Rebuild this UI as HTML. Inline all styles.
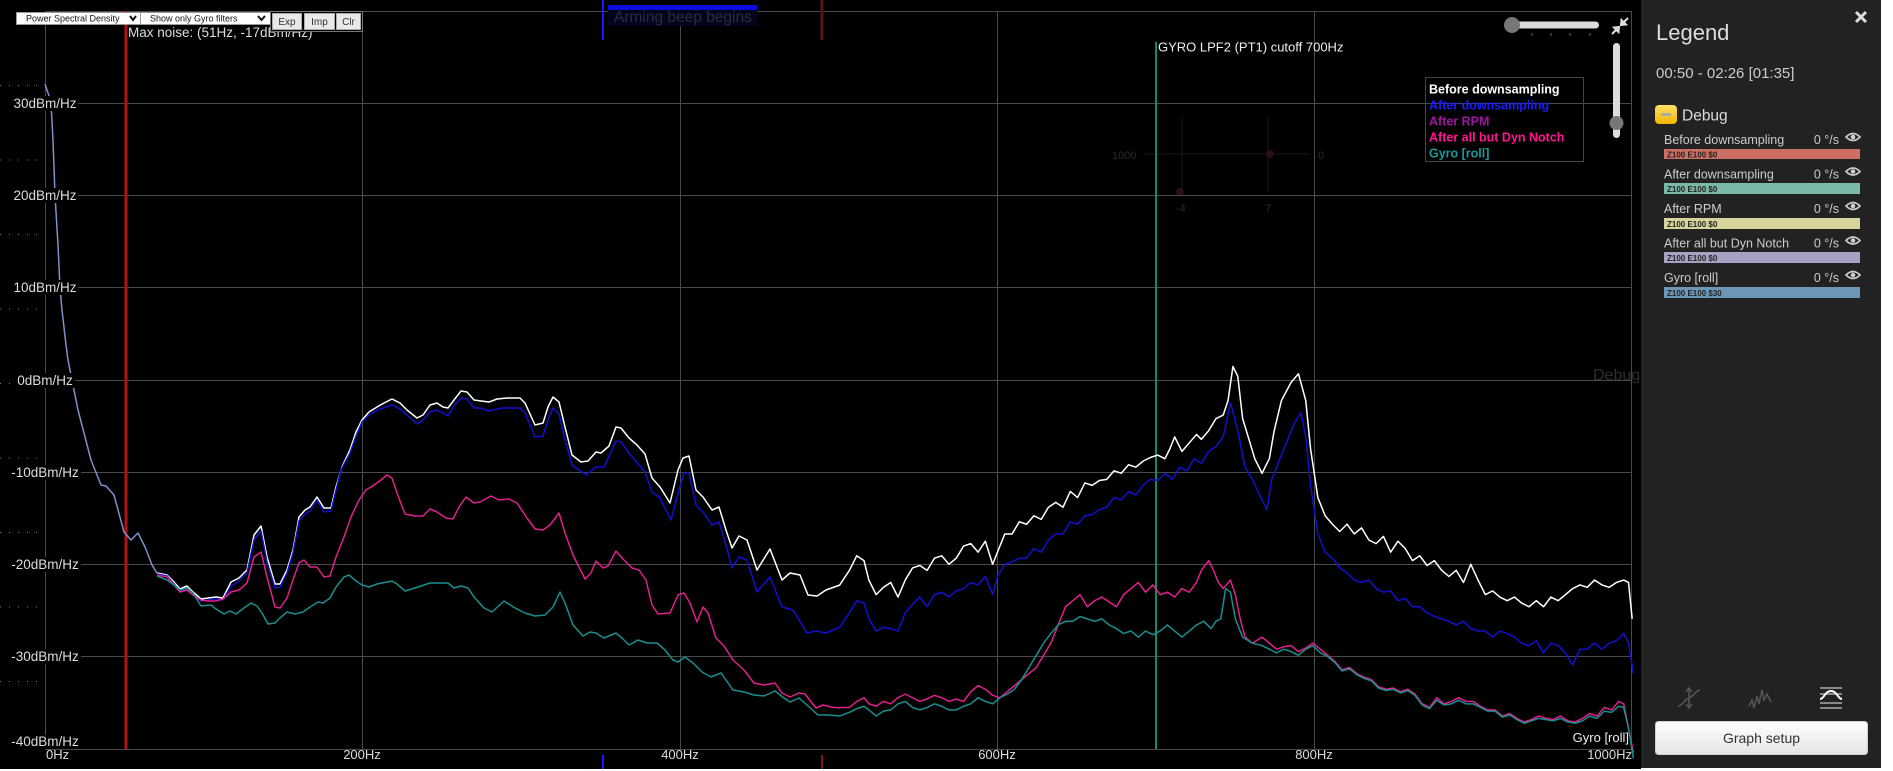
<!DOCTYPE html>
<html>
<head>
<meta charset="utf-8">
<style>
html,body{margin:0;padding:0;background:#fff;}
body{width:1893px;height:771px;overflow:hidden;}
svg{display:block;}
text{font-family:"Liberation Sans",Arial,sans-serif;}
</style>
</head>
<body>
<svg width="1893" height="771" viewBox="0 0 1893 771" xmlns="http://www.w3.org/2000/svg">
<defs>
<linearGradient id="btn" x1="0" y1="0" x2="0" y2="1"><stop offset="0" stop-color="#ffffff"/><stop offset="1" stop-color="#e4e4e4"/></linearGradient>
<linearGradient id="yel" x1="0" y1="0" x2="0" y2="1"><stop offset="0" stop-color="#ffe066"/><stop offset="1" stop-color="#f2b600"/></linearGradient>
</defs>
<rect x="0" y="0" width="1893" height="771" fill="#fff"/>
<rect x="0" y="0" width="1641" height="769" fill="#000"/>

<g fill="#2a2a2a" font-size="11">
<text x="1112" y="159">1000</text>
<text x="1318" y="159">0</text>
<text x="1176" y="212">-4</text>
<text x="1265" y="212">7</text>
</g>
<g stroke="#1a1a1a" stroke-width="1">
<line x1="1182" y1="118" x2="1182" y2="192"/>
<line x1="1268" y1="118" x2="1268" y2="192"/>
<line x1="1145" y1="154" x2="1310" y2="154"/>
</g>
<circle cx="1270" cy="154" r="4" fill="#2a1010"/>
<circle cx="1180" cy="192" r="4" fill="#2a1010"/>
<text x="1593" y="380" font-size="16" fill="#2e2e2e">Debug</text>

<g stroke="#777" stroke-width="1" stroke-dasharray="1 8">
<line x1="0" y1="85.5" x2="45" y2="85.5"/>
<line x1="0" y1="160" x2="45" y2="160"/>
<line x1="0" y1="234.5" x2="45" y2="234.5"/>
<line x1="0" y1="309" x2="45" y2="309"/>
<line x1="0" y1="383.5" x2="45" y2="383.5"/>
<line x1="0" y1="458" x2="45" y2="458"/>
<line x1="0" y1="532.5" x2="45" y2="532.5"/>
<line x1="0" y1="607" x2="45" y2="607"/>
<line x1="0" y1="681.5" x2="45" y2="681.5"/>
</g>

<g stroke="#4a4a4a" stroke-width="1">
<line x1="45" y1="11.5" x2="1632" y2="11.5"/>
<line x1="45" y1="103.5" x2="1632" y2="103.5"/>
<line x1="45" y1="195.5" x2="1632" y2="195.5"/>
<line x1="45" y1="287.5" x2="1632" y2="287.5"/>
<line x1="45" y1="380.5" x2="1632" y2="380.5"/>
<line x1="45" y1="472.5" x2="1632" y2="472.5"/>
<line x1="45" y1="564.5" x2="1632" y2="564.5"/>
<line x1="45" y1="656.5" x2="1632" y2="656.5"/>
<line x1="45" y1="749.5" x2="1632" y2="749.5"/>
<line x1="45.5" y1="11" x2="45.5" y2="749"/>
<line x1="362.5" y1="11" x2="362.5" y2="749"/>
<line x1="680.5" y1="11" x2="680.5" y2="749"/>
<line x1="997.5" y1="11" x2="997.5" y2="749"/>
<line x1="1314.5" y1="11" x2="1314.5" y2="749"/>
<line x1="1631.5" y1="11" x2="1631.5" y2="749"/>
</g>

<line x1="126" y1="11" x2="126" y2="749" stroke="#b01212" stroke-width="3"/>
<line x1="1156" y1="42" x2="1156" y2="749" stroke="#148a6a" stroke-width="2"/>
<line x1="603" y1="0" x2="603" y2="40" stroke="#1a1aff" stroke-width="2"/>
<line x1="603" y1="755" x2="603" y2="769" stroke="#1a1aff" stroke-width="2"/>
<line x1="822" y1="0" x2="822" y2="40" stroke="#5a1414" stroke-width="3"/>
<line x1="822" y1="755" x2="822" y2="769" stroke="#8a1414" stroke-width="2"/>

<rect x="608" y="5" width="149" height="5" fill="#0c0ce0"/>
<rect x="608" y="10" width="149" height="16" fill="#04041c"/>
<text x="614" y="22" font-size="15.5" fill="#2c2c40">Arming beep begins</text>

<g fill="none" stroke-width="1.5" stroke-linejoin="round">
<polyline stroke="#ffffff" points="157,573 167,575 174,582 180,589 187,586 193,592 201,599 208,598 216,597 223,598 231,582 239,578 247,570 254,535 261,526 267,557 275,584 280,584 287,570 293,550 299,517 305,510 310,507 317,497 324,508 331,508 336,487 342,467 350,450 356,432 362,420 369,412 377,407 384,403 392,399 400,403 407,410 417,418 423,415 430,405 437,403 443,407 448,408 454,400 461,391 467,392 474,400 481,401 489,402 497,399 507,398 520,398 525,403 535,425 543,423 548,407 553,397 559,402 565,427 572,455 581,462 588,461 596,452 601,453 609,446 616,427 621,428 629,438 637,445 645,454 652,478 660,487 670,503 678,470 683,458 689,456 696,490 703,497 712,510 719,507 726,530 732,548 739,536 747,540 757,570 770,549 782,580 790,573 800,575 808,595 817,596 826,590 840,585"/>
<polyline stroke="#1010d0" points="157,574 167,576 174,584 180,591 187,588 193,594 201,601 208,600 216,599 223,600 231,586 239,581 247,573 254,540 261,531 267,562 275,588 280,587 287,573 293,553 299,521 305,514 310,511 317,500 324,512 331,511 336,490 341,470 350,453 356,436 362,422 369,415 377,410 392,405 400,409 407,415 417,424 423,420 430,412 437,410 443,413 448,416 454,406 461,398 467,399 474,408 481,408 489,411 502,408 520,408 525,413 535,437 543,436 548,420 553,408 559,414 565,440 572,465 586,475 596,467 604,467 616,441 621,442 629,453 645,472 652,492 660,498 671,520 679,490 684,473 689,473 696,505 703,512 712,525 719,522 726,545 732,568 739,557 747,560 757,592 770,577 782,607 793,610 807,633 816,631 826,633 840,627"/>
<polyline stroke="#e0208c" points="157,575 167,577 174,585 180,592 187,590 193,595 201,600 208,601 216,601 223,599 231,592 239,590 247,583 254,557 261,552 267,577 275,607 280,608 287,598 294,577 299,563 304,560 310,567 317,567 324,577 330,576 336,557 344,537 351,517 359,500 366,490 374,485 381,480 387,475 392,478 397,493 405,514 415,516 423,516 430,509 437,512 446,518 453,519 459,507 466,497 474,503 480,502 491,496 499,500 509,499 517,503 527,518 535,529 543,530 550,525 559,513 565,533 573,555 585,579 591,573 596,561 603,568 608,566 616,551 624,560 632,568 639,570 646,580 652,605 658,614 670,613 678,595 684,593 690,603 697,622 703,607 708,613 716,638 724,646 733,660 744,670 754,683 764,685 775,683 782,693 790,697 799,693 805,694 816,708 823,705 831,707 840,708"/>
<polyline stroke="#1a8e8e" points="157,576 167,580 174,585 180,590 187,588 193,593 201,606 211,605 216,609 224,614 230,611 236,614 244,608 251,603 257,606 262,613 268,624 275,623 280,618 287,612 295,614 303,612 310,607 318,602 323,603 330,598 336,587 344,577 349,575 356,581 362,585 369,587 377,584 392,581 397,584 405,591 418,587 430,583 448,583 454,588 461,586 468,588 474,597 484,608 492,612 504,601 515,608 525,613 535,616 545,615 553,607 560,592 565,603 573,625 583,636 590,632 596,633 604,638 616,633 622,638 629,645 638,640 647,643 657,643 665,650 673,660 678,662 685,657 693,663 702,672 711,677 721,673 733,690 744,692 754,695 764,696 775,691 784,698 790,702 799,698 808,706 818,715 828,715 840,716"/>
<polyline stroke="#8090c8" points="45,84 49,96 51,103 53,140 55,195 58,245 60,288 62,310 66,345 68,360 78,410 91,460 101,485 106,486 114,495 124,532 131,540 138,533 145,547 152,565 157,573"/>
</g>

<g fill="none" stroke-width="1.24" stroke-linejoin="round" transform="scale(1.2135)">
<polyline stroke="#ffffff" points="692,482 700,470 706,458 712,462 716,478 722,490 728,484 734,480 740,492 746,478 752,468 758,466 764,470 770,460 776,458 782,465 788,460 794,450 800,448 806,455 812,446 818,465 822,455 828,440 834,440 840,430 846,432 852,425 858,428 864,418 870,414 876,418 882,405 888,410 894,398 900,400 906,396 912,395 918,388 924,390 930,383 936,385 942,380 948,377 954,375 960,378 964,370 968,360 974,372 980,365 986,358 990,362 996,355 1002,345 1008,342 1012,330 1016,302 1020,310 1024,345 1028,358 1034,378 1040,390 1046,378 1050,355 1056,330 1064,315 1070,308 1076,330 1080,370 1086,410 1092,425 1098,432 1104,438 1110,432 1116,440 1122,435 1128,445 1134,448 1140,442 1146,455 1152,446 1158,452 1164,462 1170,458 1176,466 1182,462 1188,470 1194,475 1200,470 1206,480 1212,465 1218,478 1224,490 1230,487 1236,492 1242,495 1248,492 1254,497 1260,500 1266,495 1272,500 1278,492 1284,495 1290,490 1296,485 1302,482 1308,484 1314,478 1320,482 1326,484 1332,480 1338,478 1342,480 1345,510"/>
<polyline stroke="#1010d0" points="692,517 700,505 706,495 712,497 716,510 722,520 728,517 734,518 740,520 746,505 752,498 758,492 764,500 770,490 776,488 782,492 788,487 794,485 800,480 806,482 812,475 818,490 822,475 828,465 834,463 840,460 846,460 852,452 858,455 864,445 870,440 876,440 882,430 888,432 894,425 900,424 906,420 912,418 918,410 924,412 930,405 936,408 942,400 948,395 954,396 960,390 966,395 972,385 978,388 984,378 990,382 996,372 1002,368 1008,360 1014,332 1020,355 1026,385 1032,395 1038,408 1044,420 1048,395 1054,380 1060,365 1066,350 1072,340 1076,360 1080,400 1086,440 1092,455 1098,460 1104,468 1110,472 1116,478 1122,480 1128,478 1134,485 1140,488 1146,487 1152,495 1158,493 1164,500 1170,500 1176,505 1182,508 1188,510 1194,512 1200,515 1206,512 1212,518 1218,520 1224,520 1230,525 1236,520 1242,522 1248,525 1254,530 1260,532 1266,528 1272,538 1278,530 1284,532 1290,538 1296,548 1302,535 1308,535 1314,530 1320,535 1326,530 1332,528 1338,522 1342,530 1346,555"/>
<polyline stroke="#e0208c" points="692,583 700,583 706,578 712,575 716,580 722,582 728,578 734,580 740,575 746,572 752,575 758,578 764,576 770,573 776,575 782,578 788,576 794,578 800,570 806,565 812,568 818,573 824,575 830,570 836,565 842,560 848,555 854,550 860,540 866,530 872,515 878,500 884,495 890,490 896,500 902,495 908,492 914,496 920,500 926,490 932,485 938,480 944,488 950,482 956,490 962,488 968,492 974,485 980,488 986,480 990,470 996,462 1000,470 1004,480 1008,485 1014,478 1018,490 1022,510 1026,525 1032,530 1040,525 1046,530 1052,535 1058,533 1064,532 1070,537 1076,534 1082,530 1088,535 1094,540 1100,545 1106,552 1112,550 1118,555 1124,558 1130,560 1136,566 1142,568 1148,567 1154,570 1160,568 1166,572 1172,580 1178,583 1184,575 1190,580 1196,578 1202,575 1208,578 1214,578 1220,582 1226,585 1232,585 1238,590 1244,588 1250,592 1256,595 1262,593 1268,590 1274,592 1280,593 1286,590 1292,594 1298,595 1304,592 1310,588 1316,590 1322,583 1328,585 1334,578 1338,580 1342,600 1346,620"/>
<polyline stroke="#1a8e8e" points="692,590 700,587 706,584 712,582 716,585 722,590 728,586 734,585 740,580 746,578 752,583 758,585 764,583 770,580 776,582 782,585 788,585 794,582 800,580 806,575 812,578 818,580 824,575 830,572 836,568 842,560 848,550 854,540 860,530 866,522 872,515 878,512 884,512 890,508 896,510 902,512 908,510 914,515 920,518 926,522 932,520 938,525 944,520 950,523 956,520 962,515 968,520 974,525 980,520 986,515 992,512 998,518 1002,512 1006,510 1010,485 1014,488 1018,510 1024,525 1032,530 1040,532 1046,535 1052,538 1058,535 1064,537 1070,540 1076,535 1082,532 1088,538 1094,541 1100,546 1106,553 1112,551 1118,556 1124,559 1130,561 1136,567 1142,569 1148,568 1154,571 1160,569 1166,573 1172,581 1178,584 1184,577 1190,581 1196,580 1202,577 1208,580 1214,580 1220,583 1226,586 1232,586 1238,591 1244,589 1250,593 1256,596 1262,594 1268,592 1274,593 1280,594 1286,592 1292,595 1298,596 1304,594 1310,590 1316,592 1322,586 1328,587 1334,582 1338,583 1342,600 1346,625"/>
</g>

<g font-size="13.5" fill="#ddd" text-anchor="middle">
<rect x="12" y="96" width="66" height="15" fill="#000"/><text x="45" y="108">30dBm/Hz</text>
<rect x="12" y="188" width="66" height="15" fill="#000"/><text x="45" y="200">20dBm/Hz</text>
<rect x="12" y="280" width="66" height="15" fill="#000"/><text x="45" y="292">10dBm/Hz</text>
<rect x="15" y="373" width="60" height="15" fill="#000"/><text x="45" y="385">0dBm/Hz</text>
<rect x="9" y="465" width="72" height="15" fill="#000"/><text x="45" y="477">-10dBm/Hz</text>
<rect x="9" y="557" width="72" height="15" fill="#000"/><text x="45" y="569">-20dBm/Hz</text>
<rect x="9" y="649" width="72" height="15" fill="#000"/><text x="45" y="661">-30dBm/Hz</text>
<rect x="9" y="735" width="72" height="14" fill="#000"/><text x="45" y="746">-40dBm/Hz</text>
</g>
<g font-size="13" fill="#ddd">
<text x="46" y="759">0Hz</text>
<text x="362" y="759" text-anchor="middle">200Hz</text>
<text x="680" y="759" text-anchor="middle">400Hz</text>
<text x="997" y="759" text-anchor="middle">600Hz</text>
<text x="1314" y="759" text-anchor="middle">800Hz</text>
<text x="1632" y="759" text-anchor="end">1000Hz</text>
<text x="1629" y="742" text-anchor="end" fill="#eee">Gyro [roll]</text>
</g>

<text x="1158" y="51.5" font-size="13" fill="#eee">GYRO LPF2 (PT1) cutoff 700Hz</text>
<text x="128" y="37" font-size="13.5" fill="#ddd">Max noise: (51Hz, -17dBm/Hz)</text>

<rect x="16.5" y="12.5" width="124" height="12" fill="#fff" stroke="#999"/>
<text x="26" y="21.5" font-size="9" fill="#111">Power Spectral Density</text>
<path d="M130 16 L133 20 L136 16" stroke="#111" stroke-width="2" fill="none"/>
<rect x="140.5" y="12.5" width="130" height="12" fill="#fff" stroke="#999"/>
<text x="150" y="21.5" font-size="9" fill="#111">Show only Gyro filters</text>
<path d="M258 16 L261.5 20 L265 16" stroke="#111" stroke-width="2" fill="none"/>
<rect x="270.5" y="11.5" width="92" height="20" fill="#000" stroke="#777"/>
<rect x="272.5" y="13.5" width="29" height="16" fill="#e9e9e9" stroke="#aaa"/>
<text x="287" y="25" font-size="10" fill="#333" text-anchor="middle">Exp</text>
<rect x="304.5" y="13.5" width="30" height="16" fill="#e9e9e9" stroke="#aaa"/>
<text x="319.5" y="25" font-size="10" fill="#333" text-anchor="middle">Imp</text>
<rect x="336.5" y="13.5" width="24" height="16" fill="#e9e9e9" stroke="#aaa"/>
<text x="348.5" y="25" font-size="10" fill="#333" text-anchor="middle">Clr</text>

<rect x="1425.5" y="77.5" width="158" height="84" fill="none" stroke="#444"/>
<g font-size="12.5" font-weight="bold">
<text x="1429" y="93.5" fill="#ffffff">Before downsampling</text>
<text x="1429" y="109.5" fill="#1a1aff">After downsampling</text>
<text x="1429" y="125.5" fill="#a015a0">After RPM</text>
<text x="1429" y="141.5" fill="#ff1493">After all but Dyn Notch</text>
<text x="1429" y="157.5" fill="#1a9a9a">Gyro [roll]</text>
</g>

<rect x="1510" y="21.5" width="89" height="7" rx="3.5" fill="#ddd"/>
<circle cx="1512" cy="25" r="8" fill="#777"/>
<g stroke="#666" stroke-width="1"><line x1="1532" y1="33" x2="1532" y2="36"/><line x1="1551" y1="33" x2="1551" y2="36"/><line x1="1570" y1="33" x2="1570" y2="36"/><line x1="1590" y1="33" x2="1590" y2="36"/></g>
<rect x="1613" y="43" width="7" height="95" rx="3.5" fill="#ddd"/>
<circle cx="1616.5" cy="123" r="7" fill="#777"/>
<g stroke="#ddd" stroke-width="2" fill="#ddd">
<line x1="1612" y1="34" x2="1617" y2="29"/><path d="M1619 27 L1614 27.5 L1618.5 32 Z"/>
<line x1="1628" y1="18" x2="1623" y2="23"/><path d="M1621 25 L1626 24.5 L1621.5 20 Z"/>
</g>

<rect x="1641" y="0" width="240" height="768" fill="#222"/>
<g stroke="#ddd" stroke-width="3"><line x1="1856" y1="12" x2="1866" y2="22"/><line x1="1866" y1="12" x2="1856" y2="22"/></g>
<text x="1656" y="40" font-size="22" fill="#ddd">Legend</text>
<text x="1656" y="78" font-size="15" fill="#ccc">00:50 - 02:26 [01:35]</text>
<rect x="1655" y="105" width="22" height="19" rx="4" fill="url(#yel)"/>
<rect x="1661" y="113" width="10" height="3" fill="#aaa"/>
<text x="1682" y="120.5" font-size="15.5" fill="#ddd">Debug</text>

<g font-size="12.5" fill="#ccc">
<text x="1664" y="144">Before downsampling</text><text x="1839" y="144" text-anchor="end">0 °/s</text>
<text x="1664" y="178.5">After downsampling</text><text x="1839" y="178.5" text-anchor="end">0 °/s</text>
<text x="1664" y="213">After RPM</text><text x="1839" y="213" text-anchor="end">0 °/s</text>
<text x="1664" y="247.5">After all but Dyn Notch</text><text x="1839" y="247.5" text-anchor="end">0 °/s</text>
<text x="1664" y="282">Gyro [roll]</text><text x="1839" y="282" text-anchor="end">0 °/s</text>
</g>
<rect x="1664" y="149" width="196" height="10" fill="#cd6e64"/>
<rect x="1664" y="183" width="196" height="11" fill="#7ab8a8"/>
<rect x="1664" y="218" width="196" height="11" fill="#d7d49b"/>
<rect x="1664" y="252" width="196" height="11" fill="#a7a2c4"/>
<rect x="1664" y="287" width="196" height="11" fill="#6d97b7"/>
<g font-size="8" font-weight="bold" fill="#222">
<text x="1667" y="157.5">Z100 E100 $0</text>
<text x="1667" y="192">Z100 E100 $0</text>
<text x="1667" y="227">Z100 E100 $0</text>
<text x="1667" y="261">Z100 E100 $0</text>
<text x="1667" y="296">Z100 E100 $30</text>
</g>
<g stroke="#ccc" stroke-width="1.6" fill="none">
<path d="M1846 137 Q1853 130 1860 137 Q1853 144 1846 137 Z"/>
<path d="M1846 171.5 Q1853 164.5 1860 171.5 Q1853 178.5 1846 171.5 Z"/>
<path d="M1846 206 Q1853 199 1860 206 Q1853 213 1846 206 Z"/>
<path d="M1846 240.5 Q1853 233.5 1860 240.5 Q1853 247.5 1846 240.5 Z"/>
<path d="M1846 275 Q1853 268 1860 275 Q1853 282 1846 275 Z"/>
</g>
<g fill="#ccc"><circle cx="1853" cy="137" r="2.3"/><circle cx="1853" cy="171.5" r="2.3"/><circle cx="1853" cy="206" r="2.3"/><circle cx="1853" cy="240.5" r="2.3"/><circle cx="1853" cy="275" r="2.3"/></g>

<g fill="none" stroke="#555" stroke-width="1.5">
<path d="M1678 706 C1682 706 1684 700 1689 698 C1694 696 1696 690 1700 690"/>
<line x1="1689" y1="689" x2="1689" y2="708"/>
<path d="M1686 692 L1689 688 L1692 692 M1686 704 L1689 708 L1692 704"/>
<path d="M1749 706 L1752 700 L1754 708 L1757 696 L1759 704 L1762 690 L1764 700 L1767 694 L1771 702"/>
</g>
<g stroke="#888" stroke-width="2"><line x1="1820" y1="688" x2="1842" y2="688"/><line x1="1820" y1="694" x2="1842" y2="694"/><line x1="1820" y1="703" x2="1842" y2="703"/><line x1="1820" y1="708" x2="1842" y2="708"/></g>
<path d="M1820 699 C1824 699 1825 691 1831 691 C1837 691 1838 699 1842 699" stroke="#fff" stroke-width="2" fill="none"/>

<rect x="1655.5" y="721.5" width="212" height="33" rx="3" fill="url(#btn)" stroke="#cfcfcf"/>
<text x="1761.5" y="743" font-size="14" fill="#333" text-anchor="middle">Graph setup</text>
</svg>
</body>
</html>
